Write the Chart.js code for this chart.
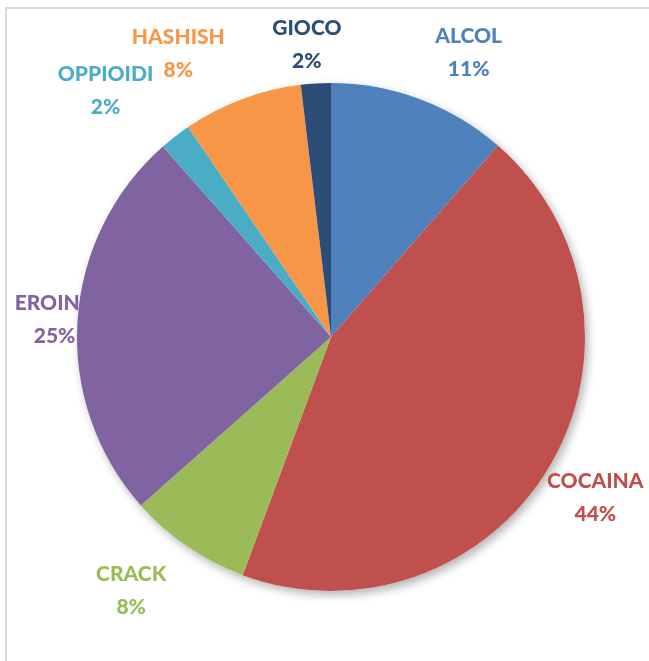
<!DOCTYPE html>
<html>
<head>
<meta charset="utf-8">
<script src="https://cdn.jsdelivr.net/npm/chart.js@4.4.0/dist/chart.umd.min.js"></script>
<style>
  html, body { margin: 0; padding: 0; background: #fff; }
  #wrap { position: relative; width: 649px; height: 661px; overflow: hidden; }
  #frame { position: absolute; left: 5px; top: 7px; width: 660px; height: 670px; border: 2px solid #d9d9d9; }
  canvas { position: absolute; left: 0; top: 0; }
</style>
</head>
<body>
<div id="wrap">
  <div id="frame"></div>
  <canvas id="pie" width="649" height="661"></canvas>
</div>
<script>
// slices, clockwise from 12 o'clock
var categories = ["ALCOL", "COCAINA", "CRACK", "EROINA", "OPPIOIDI", "HASHISH", "GIOCO"];
var shares = [11.4, 44.2, 7.8, 25.0, 2.0, 7.6, 1.9];
var colours = ["#4f81bd", "#c0504d", "#9bbb59", "#8064a2", "#4bacc6", "#f79646", "#2c4d75"];

// hand-placed label nudges (px) from the default outside position, like the original
var labelNudge = [[31, 0], [3, 5], [-28, 3], [27, 1], [-39, -6], [-46, 1], [-6, 11]];

var total = shares.reduce(function (a, b) { return a + b; }, 0);

// outside-end labels, drawn before the slices so the pie can cover them
var outsideLabels = {
  id: 'outsideLabels',
  beforeDatasetsDraw: function (chart) {
    var ctx = chart.ctx;
    var arcs = chart.getDatasetMeta(0).data;
    var cx = arcs[0].x, cy = arcs[0].y, r = arcs[0].outerRadius;

    // soft shadow under the pie
    ctx.save();
    ctx.shadowColor = 'rgba(0,0,0,0.3)';
    ctx.shadowBlur = 10;
    ctx.shadowOffsetX = 3;
    ctx.shadowOffsetY = 4;
    ctx.fillStyle = '#fff';
    ctx.beginPath();
    ctx.arc(cx, cy, r, 0, Math.PI * 2);
    ctx.fill();
    ctx.restore();

    ctx.save();
    ctx.font = '900 21px Lato, "Open Sans", sans-serif';
    ctx.textAlign = 'center';
    ctx.textBaseline = 'middle';
    var lineH = 33;
    arcs.forEach(function (arc, i) {
      var mid = (arc.startAngle + arc.endAngle) / 2;
      var pct = Math.round(shares[i] / total * 100) + '%';
      var d = r + 50;
      var x = cx + d * Math.cos(mid) + labelNudge[i][0];
      var y = cy + d * Math.sin(mid) + labelNudge[i][1];
      ctx.fillStyle = colours[i];
      ctx.fillText(categories[i], x, y - lineH / 2);
      ctx.fillText(pct, x, y + lineH / 2);
    });
    ctx.restore();
  }
};

new Chart(document.getElementById('pie'), {
  type: 'pie',
  data: {
    labels: categories,
    datasets: [{
      data: shares,
      backgroundColor: colours,
      borderWidth: 0
    }]
  },
  options: {
    responsive: false,
    animation: false,
    layout: { padding: { left: 77, right: 64, top: 83, bottom: 70 } },
    plugins: {
      legend: { display: false },
      tooltip: { enabled: false }
    }
  },
  plugins: [outsideLabels]
});
</script>
</body>
</html>
